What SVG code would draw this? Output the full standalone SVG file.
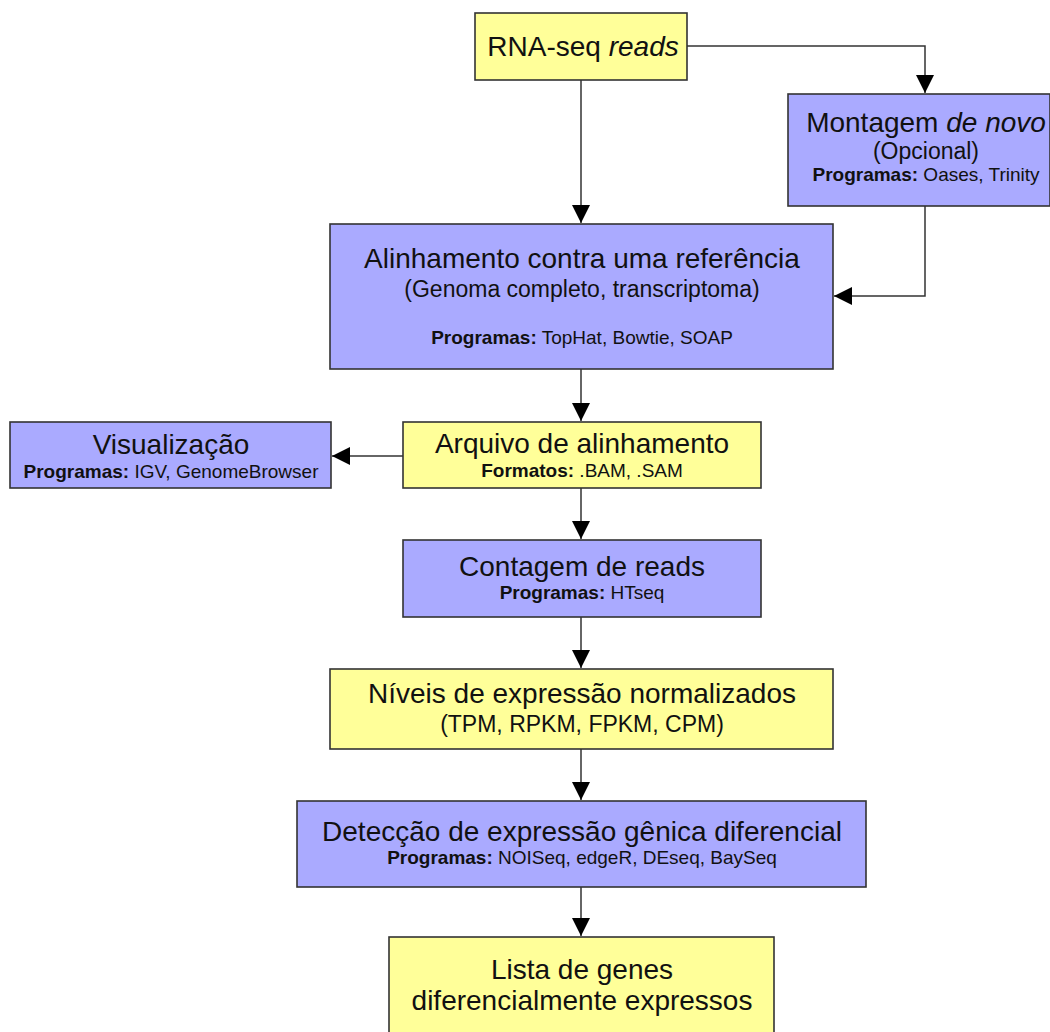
<svg xmlns="http://www.w3.org/2000/svg" width="1050" height="1032" viewBox="0 0 1050 1032">
<style>
.y{fill:#ffff99;stroke:#333;stroke-width:1.6}
.p{fill:#aaaaff;stroke:#333;stroke-width:1.6}
.t{font-family:"Liberation Sans",Arial,sans-serif;fill:#111;text-anchor:middle}
.h{font-size:28px}
.s{font-size:23px}
.m{font-size:19px}
.b{font-weight:bold}
.c{fill:none;stroke:#333;stroke-width:1.5}
</style>
<defs>
<marker id="a" markerUnits="userSpaceOnUse" markerWidth="20" markerHeight="20" viewBox="0 0 20 20" refX="18" refY="10" orient="auto">
<path d="M0,1 L18,10 L0,19 Z" fill="#000"/>
</marker>
</defs>
<g id="connectors">
<path class="c" d="M581,80 V223" marker-end="url(#a)"/>
<path class="c" d="M687,46 H925 V93" marker-end="url(#a)"/>
<path class="c" d="M925,206 V296 H834" marker-end="url(#a)"/>
<path class="c" d="M581,369 V421" marker-end="url(#a)"/>
<path class="c" d="M403,456 H332" marker-end="url(#a)"/>
<path class="c" d="M581,488 V539" marker-end="url(#a)"/>
<path class="c" d="M581,617 V668" marker-end="url(#a)"/>
<path class="c" d="M581,749 V800" marker-end="url(#a)"/>
<path class="c" d="M581,887 V936" marker-end="url(#a)"/>
</g>
<g id="n1">
<rect class="y" x="475" y="13" width="212" height="67"/>
<text class="t h" x="583" y="56">RNA-seq <tspan font-style="italic">reads</tspan></text>
</g>
<g id="n2">
<rect class="p" x="788" y="94" width="262" height="112"/>
<text class="t h" x="926" y="132">Montagem <tspan font-style="italic">de novo</tspan></text>
<text class="t s" x="926" y="159">(Opcional)</text>
<text class="t m" x="926" y="181"><tspan class="b">Programas:</tspan> Oases, Trinity</text>
</g>
<g id="n3">
<rect class="p" x="330" y="224" width="503" height="145"/>
<text class="t h" x="582" y="268">Alinhamento contra uma referência</text>
<text class="t s" x="582" y="297">(Genoma completo, transcriptoma)</text>
<text class="t m" x="582" y="344"><tspan class="b">Programas:</tspan> TopHat, Bowtie, SOAP</text>
</g>
<g id="n4">
<rect class="p" x="10" y="422" width="321" height="66"/>
<text class="t h" x="171" y="454">Visualização</text>
<text class="t m" x="171" y="478"><tspan class="b">Programas:</tspan> IGV, GenomeBrowser</text>
</g>
<g id="n5">
<rect class="y" x="403" y="422" width="358" height="66"/>
<text class="t h" x="582" y="453">Arquivo de alinhamento</text>
<text class="t m" x="582" y="477"><tspan class="b">Formatos:</tspan> .BAM, .SAM</text>
</g>
<g id="n6">
<rect class="p" x="403" y="540" width="358" height="77"/>
<text class="t h" x="582" y="576">Contagem de reads</text>
<text class="t m" x="582" y="599"><tspan class="b">Programas:</tspan> HTseq</text>
</g>
<g id="n7">
<rect class="y" x="330" y="669" width="503" height="80"/>
<text class="t h" x="582" y="703">Níveis de expressão normalizados</text>
<text class="t s" x="582" y="732">(TPM, RPKM, FPKM, CPM)</text>
</g>
<g id="n8">
<rect class="p" x="297" y="801" width="569" height="86"/>
<text class="t h" x="582" y="841">Detecção de expressão gênica diferencial</text>
<text class="t m" x="582" y="864"><tspan class="b">Programas:</tspan> NOISeq, edgeR, DEseq, BaySeq</text>
</g>
<g id="n9">
<rect class="y" x="389" y="937" width="385" height="110"/>
<text class="t h" x="582" y="979">Lista de genes</text>
<text class="t h" x="582" y="1010">diferencialmente expressos</text>
</g>
</svg>
